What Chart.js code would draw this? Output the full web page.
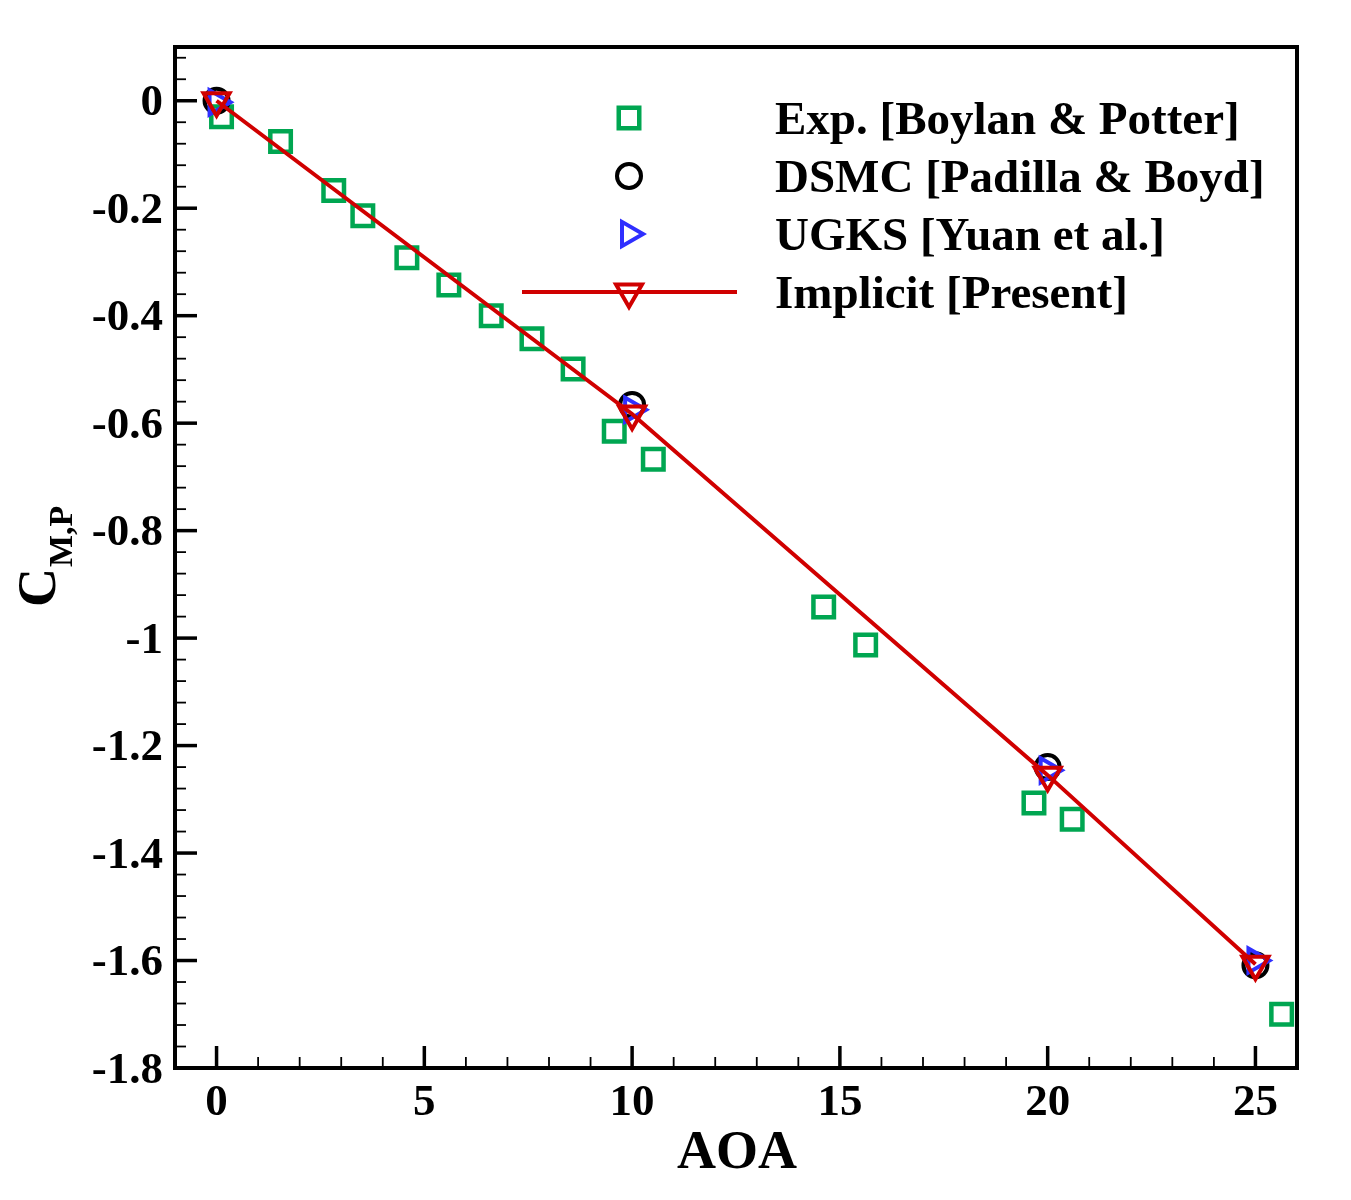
<!DOCTYPE html>
<html>
<head>
<meta charset="utf-8">
<script src="https://cdn.jsdelivr.net/npm/chart.js@4.4.1/dist/chart.umd.min.js"></script>
<style>
  body { margin: 0; background: #fff; }
  #wrap { width: 1351px; height: 1200px; position: relative; }
</style>
</head>
<body>
<div id="wrap"><canvas id="cmChart"></canvas></div>
<script>
// Datos
const expAoa = [0.12, 1.54, 2.82, 3.52, 4.58, 5.59, 6.61, 7.59, 8.58, 9.57, 10.51, 14.61, 15.62, 19.67, 20.59, 25.63];
const expCm = [-0.030, -0.076, -0.167, -0.214, -0.292, -0.343, -0.400, -0.443, -0.499, -0.615, -0.667, -0.942, -1.013, -1.307, -1.337, -1.700];

const dsmcAoa = [0, 10, 20, 25];
const dsmcCm = [0, -0.566, -1.240, -1.609];

const ugksAoa = [0, 10, 20, 25];
const ugksCm = [-0.003, -0.575, -1.246, -1.600];

const implicitAoa = [0, 10, 20, 25];
const implicitCm = [0, -0.583, -1.255, -1.607];

const xTicks = [0, 5, 10, 15, 20, 25];
const yTicks = [0, -0.2, -0.4, -0.6, -0.8, -1, -1.2, -1.4, -1.6, -1.8];

const legendLabels = ['Exp. [Boylan & Potter]', 'DSMC [Padilla & Boyd]', 'UGKS [Yuan et al.]', 'Implicit [Present]'];

const FONT = '"Liberation Serif", "Times New Roman", serif';

function pares(xs, ys) {
    return xs.map((x, i) => ({ x: x, y: ys[i] }));
}

// Dibuja un marcador (para la leyenda)
function marcador(ctx, ds, x, y) {
    ctx.save();
    ctx.strokeStyle = ds.pointBorderColor;
    ctx.fillStyle = 'rgba(0,0,0,0)';
    ctx.lineWidth = ds.pointBorderWidth;
    const opts = { pointStyle: ds.pointStyle, radius: ds.pointRadius, rotation: ds.pointRotation || 0, borderWidth: ds.pointBorderWidth };
    Chart.helpers.drawPoint(ctx, opts, x, y);
    ctx.restore();
}

// Marco, ticks interiores, títulos y leyenda
const decoracion = {
    id: 'decoracion',
    afterDatasetsDraw(chart) {
        const ctx = chart.ctx;
        const a = chart.chartArea;
        const sx = chart.scales.x, sy = chart.scales.y;

        ctx.save();
        ctx.strokeStyle = '#000';
        ctx.lineCap = 'butt';

        // ticks eje x
        for (let v = -1; v <= 26; v++) {
            const px = sx.getPixelForValue(v);
            const major = v % 5 === 0;
            ctx.lineWidth = major ? 3.5 : 1.8;
            ctx.beginPath();
            ctx.moveTo(px, a.bottom);
            ctx.lineTo(px, a.bottom - (major ? 22 : 11));
            ctx.stroke();
        }
        // ticks eje y
        for (let k = -180; k <= 10; k += 4) {
            const py = sy.getPixelForValue(k / 100);
            const major = k % 20 === 0;
            ctx.lineWidth = major ? 3.5 : 1.8;
            ctx.beginPath();
            ctx.moveTo(a.left, py);
            ctx.lineTo(a.left + (major ? 22 : 11), py);
            ctx.stroke();
        }

        // marco
        ctx.lineWidth = 4;
        ctx.strokeRect(a.left, a.top, a.right - a.left, a.bottom - a.top);

        // título eje x
        ctx.fillStyle = '#000';
        ctx.font = 'bold 54px ' + FONT;
        ctx.textAlign = 'center';
        ctx.textBaseline = 'alphabetic';
        ctx.fillText('AOA', 737, 1168);

        // título eje y con subíndice
        ctx.save();
        ctx.translate(55, 607);
        ctx.rotate(-Math.PI / 2);
        ctx.textAlign = 'left';
        ctx.font = 'bold 54px ' + FONT;
        ctx.fillText('C', 0, 0);
        const wc = ctx.measureText('C').width;
        ctx.font = 'bold 34px ' + FONT;
        ctx.fillText('M,P', wc + 1, 17);
        ctx.restore();

        // leyenda
        const filas = [118, 176, 234, 292];
        ctx.font = 'bold 47px ' + FONT;
        ctx.textAlign = 'left';
        ctx.textBaseline = 'alphabetic';
        chart.data.datasets.forEach((ds, i) => {
            const y = filas[i];
            if (ds.showLine) {
                ctx.strokeStyle = ds.borderColor;
                ctx.lineWidth = ds.borderWidth;
                ctx.beginPath();
                ctx.moveTo(522, y);
                ctx.lineTo(737, y);
                ctx.stroke();
            }
            marcador(ctx, ds, 629, y);
            ctx.fillStyle = '#000';
            ctx.fillText(legendLabels[i], 775, y + 16);
        });
        ctx.restore();
    }
};

const cmConfig = {
    type: 'scatter',
    data: {
        datasets: [{
            label: legendLabels[0],
            data: pares(expAoa, expCm),
            pointStyle: 'rect',
            pointRadius: 14.5,
            pointBorderWidth: 4.5,
            pointBorderColor: '#00a651',
            pointBackgroundColor: 'rgba(0,0,0,0)',
            order: 4
        }, {
            label: legendLabels[1],
            data: pares(dsmcAoa, dsmcCm),
            pointStyle: 'circle',
            pointRadius: 12,
            pointBorderWidth: 4,
            pointBorderColor: '#000000',
            pointBackgroundColor: 'rgba(0,0,0,0)',
            order: 3
        }, {
            label: legendLabels[2],
            data: pares(ugksAoa, ugksCm),
            pointStyle: 'triangle',
            pointRotation: 90,
            pointRadius: 14,
            pointBorderWidth: 4,
            pointBorderColor: '#2f2fff',
            pointBackgroundColor: 'rgba(0,0,0,0)',
            order: 2
        }, {
            label: legendLabels[3],
            data: pares(implicitAoa, implicitCm),
            showLine: true,
            tension: 0,
            borderColor: '#d00000',
            borderWidth: 4,
            pointStyle: 'triangle',
            pointRotation: 180,
            pointRadius: 15,
            pointBorderWidth: 4,
            pointBorderColor: '#d00000',
            pointBackgroundColor: 'rgba(0,0,0,0)',
            order: 1
        }]
    },
    options: {
        responsive: true,
        maintainAspectRatio: false,
        animation: false,
        layout: { padding: { top: 47, right: 54, left: 0, bottom: 0 } },
        plugins: {
            legend: { display: false },
            tooltip: { enabled: false }
        },
        scales: {
            x: {
                type: 'linear',
                min: -1,
                max: 26,
                grid: { display: false, drawTicks: false },
                border: { display: false },
                afterBuildTicks: (s) => { s.ticks = xTicks.map(v => ({ value: v })); },
                afterFit: (s) => { s.height = 132; },
                ticks: {
                    padding: 8,
                    color: '#000',
                    maxRotation: 0,
                    font: { family: FONT, size: 45, weight: 'bold' }
                }
            },
            y: {
                type: 'linear',
                min: -1.8,
                max: 0.1,
                grid: { display: false, drawTicks: false },
                border: { display: false },
                afterBuildTicks: (s) => { s.ticks = yTicks.map(v => ({ value: v })); },
                afterFit: (s) => { s.width = 175; },
                ticks: {
                    padding: 12,
                    labelOffset: 3,
                    color: '#000',
                    font: { family: FONT, size: 45, weight: 'bold' },
                    callback: (v) => String(Math.round(v * 10) / 10)
                }
            }
        }
    },
    plugins: [decoracion]
};

const cmChart = new Chart(document.getElementById('cmChart'), cmConfig);
</script>
</body>
</html>
